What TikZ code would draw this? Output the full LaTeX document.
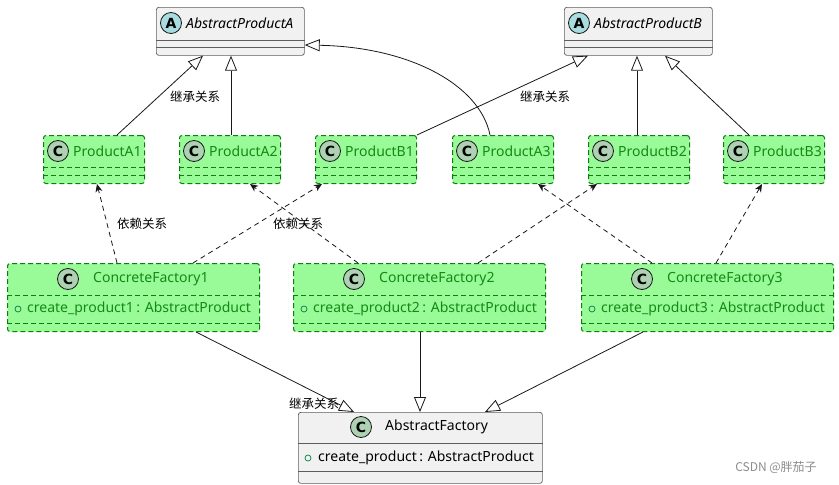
\documentclass[tikz,border=0pt]{standalone}
\usepackage{fontspec}
\setmainfont{Noto Sans}
\newfontfamily\cjk{Noto Sans CJK SC}
\newfontfamily\iconfont{DejaVu Sans}
\usetikzlibrary{arrows.meta,calc}
\definecolor{gfill}{HTML}{98FB98}
\definecolor{gline}{HTML}{0A800A}
\definecolor{gtext}{HTML}{138A13}
\definecolor{bfill}{HTML}{F1F1F1}
\definecolor{bline}{HTML}{181818}
\definecolor{cfill}{HTML}{ADD1B2}
\definecolor{afill}{HTML}{A9DCDF}
\definecolor{mcol}{HTML}{038048}
\tikzset{
  gbox/.style={draw=gline, fill=gfill, dash pattern=on 5pt off 3pt, line width=1pt, rounded corners=2.5pt, inner sep=0, anchor=north west},
  abox/.style={draw=bline!70, fill=bfill, line width=0.7pt, rounded corners=2.5pt, inner sep=0, anchor=north west},
  gsep/.style={draw=gline, dash pattern=on 5pt off 3pt, line width=1pt},
  asep/.style={draw=bline!70, line width=0.7pt},
  cicon/.style={circle, draw=bline, fill=cfill, line width=0.8pt, minimum size=21pt, inner sep=0, font=\iconfont\bfseries\fontsize{14}{14}\selectfont},
  aicon/.style={cicon, fill=afill},
  gtitle/.style={anchor=west, inner sep=0, text=gtext, font=\fontsize{14}{16}\selectfont},
  atitle/.style={anchor=west, inner sep=0, text=black, font=\fontsize{14}{16}\selectfont},
  mtext/.style={anchor=west, inner sep=0, font=\fontsize{14}{16}\selectfont},
  mdot/.style={circle, draw=mcol, line width=0.7pt, minimum size=6pt, inner sep=0},
  inh/.style={draw=bline, line width=0.8pt, -{Triangle[length=15pt,width=12pt,fill=white]}},
  dep/.style={draw=bline, line width=0.8pt, dash pattern=on 5pt off 4pt, -{Stealth[length=8pt,width=7pt,inset=2.5pt]}},
  lbl/.style={font=\cjk\fontsize{12.5}{13}\selectfont, inner sep=0},
}
\newcommand\mkprod[3]{%
  \node[gbox, minimum width=101pt, minimum height=48pt] (#1) at (#2,135) {};
  \draw[gsep] ([yshift=-32pt]#1.north west) -- ([yshift=-32pt]#1.north east);
  \draw[gsep] ([yshift=-40pt]#1.north west) -- ([yshift=-40pt]#1.north east);
  \node[cicon] (#1-i) at ([shift={(15pt,-16pt)}]#1.north west) {C};
  \node[gtitle] (#1-t) at ([shift={(30pt,-16pt)}]#1.north west) {#3};
}
\newcommand\mkfact[4]{%
  \node[gbox, minimum width=252pt, minimum height=68pt] (#1) at (#2,263) {};
  \draw[gsep] ([yshift=-32pt]#1.north west) -- ([yshift=-32pt]#1.north east);
  \draw[gsep] ([yshift=-60pt]#1.north west) -- ([yshift=-60pt]#1.north east);
  \node[cicon] (#1-i) at ([shift={(61pt,-16pt)}]#1.north west) {C};
  \node[gtitle] (#1-t) at ([shift={(86pt,-16pt)}]#1.north west) {#3};
  \node[mdot] (#1-d) at ([shift={(11pt,-46pt)}]#1.north west) {};
  \node[mtext, text=gtext] (#1-m) at ([shift={(20pt,-46pt)}]#1.north west) {#4};
}
\newcommand\mkabs[3]{%
  \node[abox, minimum width=148pt, minimum height=48pt] (#1) at (#2,7) {};
  \draw[asep] ([yshift=-33pt]#1.north west) -- ([yshift=-33pt]#1.north east);
  \draw[asep] ([yshift=-40pt]#1.north west) -- ([yshift=-40pt]#1.north east);
  \node[aicon] (#1-i) at ([shift={(15pt,-16pt)}]#1.north west) {A};
  \node[atitle] (#1-t) at ([shift={(30pt,-16pt)}]#1.north west) {\itshape #3};
}
\begin{document}
\begin{tikzpicture}[x=1pt,y=-1pt]
\useasboundingbox[fill=white] (0,0) rectangle (839,485);

\mkabs{pA}{156}{AbstractProductA}
\mkabs{pB}{564}{AbstractProductB}

\mkprod{pa1}{43}{ProductA1}
\mkprod{pa2}{179}{ProductA2}
\mkprod{pb1}{315}{ProductB1}
\mkprod{pa3}{452}{ProductA3}
\mkprod{pb2}{588}{ProductB2}
\mkprod{pb3}{723}{ProductB3}

\mkfact{cf1}{7}{ConcreteFactory1}{create\_product1\,: AbstractProduct}
\mkfact{cf2}{293}{ConcreteFactory2}{create\_product2\,: AbstractProduct}
\mkfact{cf3}{581}{ConcreteFactory3}{create\_product3\,: AbstractProduct}

% Abstract factory
\node[abox, minimum width=244pt, minimum height=71pt] (af) at (298,412) {};
\draw[asep] ([yshift=-31pt]af.north west) -- ([yshift=-31pt]af.north east);
\draw[asep] ([yshift=-59pt]af.north west) -- ([yshift=-59pt]af.north east);
\node[cicon] (af-i) at ([shift={(63pt,-15pt)}]af.north west) {C};
\node[atitle] (af-t) at ([shift={(87pt,-15pt)}]af.north west) {AbstractFactory};
\node[mdot] (af-d) at ([shift={(10pt,-46pt)}]af.north west) {};
\node[mtext] (af-m) at ([shift={(20pt,-46pt)}]af.north west) {create\_product\,: AbstractProduct};

% inheritance: products
\draw[inh] (117,0 |- pa1.north) -- (203,0 |- pA.south);
\draw[inh] (231,0 |- pa2.north) -- (231,0 |- pA.south);
\draw[inh] (490,0 |- pa3.north) .. controls (480,85) and (410,47) .. (pA.east |- 0,45);
\draw[inh] (pb1.north east) -- (588,0 |- pB.south);
\draw[inh] (637,0 |- pb2.north) -- (637,0 |- pB.south);
\draw[inh] (749,0 |- pb3.north) -- (665,0 |- pB.south);

% dependencies
\draw[dep] (117,0 |- cf1.north) -- (97,0 |- pa1.south);
\draw[dep] (193,0 |- cf1.north) -- (322,0 |- pb1.south);
\draw[dep] (358,0 |- cf2.north) -- (250,0 |- pa2.south);
\draw[dep] (478,0 |- cf2.north) -- (597,0 |- pb2.south);
\draw[dep] (652,0 |- cf3.north) -- (538,0 |- pa3.south);
\draw[dep] (716,0 |- cf3.north) -- (762,0 |- pb3.south);

% inheritance: factories
\draw[inh] (196,0 |- cf1.south) -- (354,0 |- af.north);
\draw[inh] (420,0 |- cf2.south) -- (420,0 |- af.north);
\draw[inh] (643,0 |- cf3.south) -- (485,0 |- af.north);

% labels
\node[lbl] (l1) at (195,97) {继承关系};
\node[lbl] (l2) at (545,97) {继承关系};
\node[lbl] (l3) at (142,224) {依赖关系};
\node[lbl] (l4) at (298,224) {依赖关系};
\node[lbl] (l5) at (314,404) {继承关系};

\node[font=\cjk\fontsize{12}{12}\selectfont, text=black!45, inner sep=0] (wm) at (776,467) {CSDN @胖茄子};
\end{tikzpicture}
\end{document}
